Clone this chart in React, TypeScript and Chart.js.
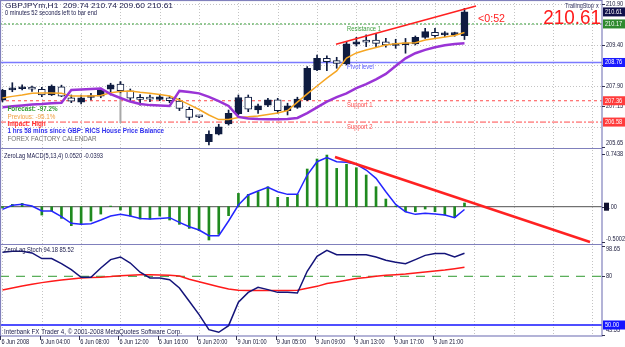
import React, { useEffect, useRef } from 'react';
import { Chart, registerables } from 'chart.js';

Chart.register(...registerables);

// ---------- data ----------
const timeLabels = ['6 Jun 2008', '6 Jun 04:00', '6 Jun 08:00', '6 Jun 12:00', '6 Jun 16:00', '6 Jun 20:00', '9 Jun 01:00', '9 Jun 05:00', '9 Jun 09:00', '9 Jun 13:00', '9 Jun 17:00', '9 Jun 21:00'];
const timeLabelBars = [0, 4, 8, 12, 16, 20, 24, 28, 32, 36, 40, 44];

const opens = [207.38, 207.76, 207.80, 207.86, 207.78, 207.57, 207.87, 207.47, 207.31, 207.48, 207.53, 207.78, 207.97, 207.72, 207.43, 207.43, 207.41, 207.47, 207.35, 207.05, 206.79, 205.86, 206.14, 206.51, 206.89, 207.49, 207.02, 207.20, 207.39, 207.00, 207.12, 207.39, 208.49, 208.91, 208.83, 208.71, 209.43, 209.58, 209.58, 209.52, 209.38, 209.41, 209.44, 209.68, 209.86, 209.77, 209.78, 209.74];
const highs = [207.78, 208.02, 207.94, 207.90, 207.85, 207.94, 207.93, 207.57, 207.57, 207.63, 207.82, 208.00, 208.06, 207.79, 207.59, 207.57, 207.56, 207.53, 207.45, 207.12, 206.82, 206.26, 206.50, 207.02, 207.57, 207.57, 207.24, 207.45, 207.45, 207.27, 207.49, 208.61, 209.03, 209.00, 208.95, 209.52, 209.68, 209.77, 209.83, 209.64, 209.61, 209.64, 209.73, 210.01, 210.01, 209.89, 209.87, 210.74];
const lows = [207.32, 207.69, 207.76, 207.70, 207.51, 207.55, 207.51, 207.29, 207.24, 207.39, 207.47, 207.57, 207.65, 207.36, 207.20, 207.33, 207.36, 207.29, 207.00, 206.66, 206.74, 205.74, 206.11, 206.47, 206.84, 206.96, 206.90, 207.14, 206.90, 206.84, 207.08, 207.36, 208.46, 208.46, 208.55, 208.67, 209.36, 209.34, 209.34, 209.32, 209.28, 209.10, 209.40, 209.64, 209.68, 209.70, 209.72, 209.60];
const closes = [207.74, 207.82, 207.85, 207.78, 207.57, 207.90, 207.53, 207.34, 207.47, 207.55, 207.75, 207.94, 207.73, 207.45, 207.41, 207.42, 207.50, 207.36, 207.08, 206.75, 206.77, 206.13, 206.41, 206.90, 207.48, 207.05, 207.17, 207.39, 207.00, 207.17, 207.42, 208.55, 208.91, 208.79, 208.73, 209.44, 209.52, 209.50, 209.46, 209.40, 209.45, 209.45, 209.68, 209.89, 209.74, 209.81, 209.80, 210.61];

const newsBar = 12;
const newsLow = 206.55;

const fastMA = [207.46, 207.52, 207.57, 207.63, 207.64, 207.64, 207.63, 207.53, 207.53, 207.53, 207.55, 207.65, 207.70, 207.72, 207.67, 207.63, 207.59, 207.53, 207.39, 207.22, 207.04, 206.84, 206.67, 206.67, 206.75, 206.77, 206.80, 206.86, 206.91, 207.00, 207.31, 207.61, 207.90, 208.19, 208.45, 208.92, 209.11, 209.22, 209.31, 209.40, 209.45, 209.47, 209.48, 209.58, 209.64, 209.69, 209.75, 209.86];
const slowMA = [207.12, 207.16, 207.19, 207.22, 207.24, 207.27, 207.29, 207.75, 207.77, 207.79, 207.81, 207.60, 207.46, 207.33, 207.24, 207.20, 207.19, 207.17, 207.72, 207.68, 207.63, 207.50, 207.35, 207.17, 206.77, 206.71, 206.69, 206.68, 206.68, 206.69, 206.73, 206.91, 207.12, 207.33, 207.49, 207.63, 207.82, 207.97, 208.14, 208.34, 208.63, 208.91, 209.10, 209.22, 209.32, 209.39, 209.44, 209.46];

const levelNames = ['Resistance 1', 'Pivot level', 'Support 1', 'Support 2'];
const levelValues = [210.17, 208.76, 207.36, 206.58];

const trendMainX = [33.93, 48.17];
const trendMainY = [209.43, 210.83];

const macdHist = [-0.02, 0.033, 0.047, 0.005, -0.118, -0.061, -0.165, -0.268, -0.249, -0.202, -0.104, 0.009, -0.047, -0.132, -0.174, -0.174, -0.132, -0.188, -0.249, -0.306, -0.339, -0.470, -0.390, -0.127, 0.188, 0.174, 0.212, 0.282, 0.132, 0.132, 0.174, 0.532, 0.673, 0.729, 0.541, 0.598, 0.550, 0.447, 0.282, 0.108, 0.009, -0.071, -0.071, -0.033, -0.071, -0.118, -0.155, 0.052];
const macdSignal = [-0.038, 0.019, 0.033, 0.009, -0.061, -0.061, -0.141, -0.235, -0.249, -0.240, -0.188, -0.132, -0.108, -0.132, -0.165, -0.174, -0.165, -0.155, -0.221, -0.282, -0.329, -0.409, -0.409, -0.202, 0.024, 0.165, 0.221, 0.273, 0.212, 0.174, 0.174, 0.447, 0.635, 0.692, 0.635, 0.626, 0.598, 0.518, 0.400, 0.212, 0.033, -0.071, -0.108, -0.094, -0.104, -0.118, -0.155, -0.039];
const trendMacdX = [33.83, 59.77];
const trendMacdY = [0.701, -0.498];

const stochMain = [94.8, 95.4, 95.4, 94.4, 90.9, 90.9, 87.8, 84.1, 79.4, 79.4, 85.1, 90.3, 91.9, 88.2, 82.5, 79.0, 79.0, 77.9, 72.8, 64.6, 56.4, 47.1, 45.5, 49.6, 64.0, 70.1, 73.2, 71.8, 70.1, 70.1, 69.7, 83.1, 92.3, 96.0, 93.3, 93.3, 93.3, 93.3, 91.9, 89.9, 88.6, 87.8, 90.3, 92.9, 94.0, 94.0, 91.9, 94.18];
const stochSignal = [71.6, 72.8, 74.0, 75.1, 76.1, 76.9, 77.7, 78.4, 79.0, 79.2, 79.4, 79.8, 80.4, 80.7, 81.0, 80.9, 80.8, 80.6, 80.2, 78.2, 76.7, 75.1, 73.6, 72.2, 71.4, 71.2, 71.2, 71.2, 71.2, 71.2, 71.4, 72.6, 73.8, 75.5, 76.5, 77.5, 78.6, 79.2, 80.0, 80.6, 81.0, 81.4, 82.1, 82.7, 83.3, 83.9, 84.7, 85.52];
const stochLevels = [80, 50];

const mainAxisTicks = [210.90, 209.40, 208.65, 207.90, 207.15, 205.65];
const mainGridTicks = [210.90, 210.15, 209.40, 208.65, 207.90, 207.15, 206.40];
const macdAxisTicks = [0.7438, 0, -0.5002];
const macdAxisText = ['0.7438', '0.00', '-0.5002'];
const stochAxisTicks = [98.65, 80, 43.55];
const stochAxisText = ['98.65', '80', '43.55'];

const headerLine1 = 'GBPJPYm,H1  209.74 210.74 209.60 210.61';
const headerLine2 = '0 minutes 52 seconds left to bar end';
const newsLines = ['Forecast: -97.2%', 'Previous: -95.1%', 'Impact: High', '1 hrs 58 mins since GBP: RICS House Price Balance', 'FOREX FACTORY CALENDAR'];
const macdTitle = 'ZeroLag MACD(5,13,4) 0.0520 -0.0393';
const stochTitle = 'ZeroLag Stoch 94.18 85.52';
const footer = 'Interbank FX Trader 4, \u00a9 2001-2008 MetaQuotes Software Corp.';
const countdown = '<0:52';

// ---------- drawing helpers ----------
const FONT = '"Liberation Sans", Arial, Helvetica, sans-serif';
type TextOpts = { size?: number; color?: string; bold?: boolean; sx?: number; align?: CanvasTextAlign; width?: number };

function drawText(ctx: CanvasRenderingContext2D, s: string, x: number, y: number, o: TextOpts = {}) {
  const size = o.size ?? 7;
  ctx.save();
  ctx.font = `${o.bold ? 'bold ' : ''}${size}px ${FONT}`;
  let sx = o.sx ?? 0.84;
  if (o.width) sx = o.width / ctx.measureText(s).width;
  ctx.translate(x, y);
  ctx.scale(sx, 1);
  ctx.textAlign = o.align ?? 'left';
  ctx.textBaseline = 'middle';
  ctx.fillStyle = o.color ?? '#1b1b4b';
  ctx.fillText(s, 0, 0);
  ctx.restore();
}

function seg(ctx: CanvasRenderingContext2D, x1: number, y1: number, x2: number, y2: number) {
  ctx.beginPath();
  ctx.moveTo(x1, y1);
  ctx.lineTo(x2, y2);
  ctx.stroke();
}

export default function App() {
  const ref = useRef<HTMLCanvasElement>(null);

  useEffect(() => {
    const canvas = ref.current;
    if (!canvas) return;
    const idx = opens.map((_, i) => i);
    const DARK = '#0f1c40';
    const xMin = -0.254;
    const xMax = 60.99;
    const PLOT_R = 602;
    const panelTop = [0, 148.5, 244.5];
    const panelBot = [148.5, 244.5, 336];

    const lineDs = (data: any[], axis: string, color: string, width: number, extra: any = {}) => ({
      type: 'line', data, xAxisID: 'x', yAxisID: axis, borderColor: color, borderWidth: width,
      pointRadius: 0, fill: false, tension: 0, ...extra,
    });
    const hline = (v: number) => [{ x: xMin, y: v }, { x: xMax, y: v }];

    const layers: any[] = [
      lineDs(hline(levelValues[0]), 'y', '#3ca03c', 1, { borderDash: [2, 2] }),
      lineDs(hline(levelValues[1]), 'y', '#7a7aff', 1.5),
      lineDs(hline(levelValues[2]), 'y', '#ff4a4a', 1, { borderDash: [3, 3] }),
      lineDs(hline(levelValues[3]), 'y', '#ff4a4a', 1, { borderDash: [6, 2, 2, 2] }),
      lineDs([{ x: newsBar, y: highs[newsBar] }, { x: newsBar, y: newsLow }], 'y', '#a8a8a8', 2),
      {
        type: 'bar', xAxisID: 'x', yAxisID: 'y', grouped: false, barThickness: 1, minBarLength: 1,
        data: idx.map(i => ({ x: i, y: [lows[i], highs[i]] })), backgroundColor: DARK,
      },
      {
        type: 'bar', xAxisID: 'x', yAxisID: 'y', grouped: false, barThickness: 7, minBarLength: 2,
        data: idx.map(i => ({ x: i, y: [opens[i], closes[i]] })),
        backgroundColor: idx.map(i => (closes[i] >= opens[i] ? DARK : '#ffffff')),
        borderColor: DARK, borderWidth: 1, borderSkipped: false,
      },
      lineDs(idx.map(i => ({ x: i, y: fastMA[i] })), 'y', '#f6a623', 1.5),
      lineDs(idx.map(i => ({ x: i, y: slowMA[i] })), 'y', '#9a34d6', 2.5),
      lineDs(trendMainX.map((x, k) => ({ x, y: trendMainY[k] })), 'y', '#ff2020', 1.5),
      // MACD
      lineDs(hline(0), 'y2', '#505050', 1),
      {
        type: 'bar', xAxisID: 'x', yAxisID: 'y2', grouped: false, barThickness: 2,
        data: idx.map(i => ({ x: i, y: macdHist[i] })), backgroundColor: '#1f8a1f',
      },
      lineDs(idx.map(i => ({ x: i, y: macdSignal[i] })), 'y2', '#2525ff', 1.5),
      lineDs(trendMacdX.map((x, k) => ({ x, y: trendMacdY[k] })), 'y2', '#ff2222', 2.5),
      // Stoch
      lineDs(hline(stochLevels[0]), 'y3', '#2f9a2f', 1, { borderDash: [9, 7] }),
      lineDs(hline(stochLevels[1]), 'y3', '#1414ff', 1.5),
      lineDs(idx.map(i => ({ x: i, y: stochSignal[i] })), 'y3', '#ff1a1a', 1.5),
      lineDs(idx.map(i => ({ x: i, y: stochMain[i] })), 'y3', '#14147a', 1.5),
    ];
    const datasets = layers.map((d, k) => ({ ...d, order: layers.length - k }));

    const deco = {
      id: 'deco',
      beforeDraw(chart: any) {
        const ctx: CanvasRenderingContext2D = chart.ctx;
        const xs = chart.scales.x;
        const ym = chart.scales.y;
        ctx.save();
        ctx.fillStyle = '#ffffff';
        ctx.fillRect(0, 0, chart.width, chart.height);
        ctx.strokeStyle = '#c4c4c4';
        ctx.lineWidth = 1;
        ctx.setLineDash([1, 2]);
        for (let b = 0; b <= 60; b += 4) {
          const px = Math.round(xs.getPixelForValue(b)) + 0.5;
          seg(ctx, px, 0, px, panelBot[2]);
        }
        mainGridTicks.forEach(v => {
          const py = Math.round(ym.getPixelForValue(v)) + 0.5;
          seg(ctx, 0, py, PLOT_R, py);
        });
        ctx.restore();
      },
      afterDatasetsDraw(chart: any) {
        const ctx: CanvasRenderingContext2D = chart.ctx;
        const xs = chart.scales.x;
        const ym = chart.scales.y;
        const y2 = chart.scales.y2;
        const y3 = chart.scales.y3;
        ctx.save();
        // frame
        ctx.strokeStyle = '#8080bc';
        ctx.lineWidth = 1.2;
        ctx.strokeRect(0.5, 0.5, PLOT_R - 0.5, panelBot[2] - 0.5);
        seg(ctx, 0, panelTop[1], PLOT_R, panelTop[1]);
        seg(ctx, 0, panelTop[2], PLOT_R, panelTop[2]);

        // header
        drawText(ctx, headerLine1, 5, 6, { size: 7.5, width: 168 });
        drawText(ctx, headerLine2, 5, 13.3, { size: 7.5, width: 92 });

        // news block
        const newsColors = ['#2e9a2e', '#f0a040', '#ff3030', '#3030ee', '#707070'];
        const newsBold = [true, false, true, true, false];
        newsLines.forEach((s, k) => {
          drawText(ctx, s, 7.5, 109.3 + k * 7.3, { size: 7.5, color: newsColors[k], bold: newsBold[k] });
        });

        // pivot labels
        const lvlColors = ['#40a040', '#5a5aff', '#ff5050', '#ff5050'];
        levelValues.forEach((v, k) => {
          const py = ym.getPixelForValue(v);
          drawText(ctx, levelNames[k], 347, py + 4.8, { size: 7, color: lvlColors[k] });
        });

        // countdown & big price
        const lastClose = closes[closes.length - 1];
        drawText(ctx, countdown, 478, 19, { size: 11.5, color: '#ff2020', sx: 0.93 });
        drawText(ctx, lastClose.toFixed(2), 601, 18.5, { size: 19.5, color: '#ff1a1a', sx: 0.97, align: 'right' });
        drawText(ctx, 'TrailingStop', 565, 6.5, { size: 6.5, color: '#303060' });
        drawText(ctx, 'x', 596, 6.5, { size: 6.5, color: '#303060' });

        // panel titles
        drawText(ctx, macdTitle, 4, 156.5, { size: 7, width: 99 });
        drawText(ctx, stochTitle, 4, 249.7, { size: 7, width: 70 });
        drawText(ctx, footer, 4, 332, { size: 7.5, width: 178 });

        // right axis
        ctx.strokeStyle = '#303050';
        ctx.lineWidth = 1;
        const axisLabel = (py: number, s: string, panel: number) => {
          const yy = Math.min(Math.max(py, panelTop[panel] + 4.5), panelBot[panel] - 5.5);
          seg(ctx, PLOT_R, Math.round(py) + 0.5, PLOT_R + 3, Math.round(py) + 0.5);
          drawText(ctx, s, 606, yy, { size: 7, sx: 0.8, color: '#202040' });
        };
        const boxLabel = (py: number, s: string, bg: string, fg: string) => {
          ctx.fillStyle = bg;
          ctx.fillRect(PLOT_R + 1, py - 4.5, 22, 9);
          drawText(ctx, s, 605, py, { size: 7, sx: 0.8, color: fg });
        };
        mainAxisTicks.forEach(v => axisLabel(ym.getPixelForValue(v), v.toFixed(2), 0));
        macdAxisTicks.forEach((v, k) => axisLabel(y2.getPixelForValue(v), macdAxisText[k], 1));
        stochAxisTicks.forEach((v, k) => axisLabel(y3.getPixelForValue(v), stochAxisText[k], 2));

        const lvlBg = ['#2f8a2f', '#1a1aff', '#ff3b3b', '#ff3b3b'];
        levelValues.forEach((v, k) => boxLabel(ym.getPixelForValue(v), v.toFixed(2), lvlBg[k], '#ffffff'));
        boxLabel(ym.getPixelForValue(lastClose), lastClose.toFixed(2), '#10104a', '#ffffff');
        boxLabel(y3.getPixelForValue(stochLevels[1]), stochLevels[1].toFixed(2), '#1414ff', '#ffffff');
        const zeroPy = y2.getPixelForValue(0);
        ctx.fillStyle = '#101030';
        ctx.fillRect(PLOT_R + 2, zeroPy - 4, 5, 8);

        // time axis
        ctx.strokeStyle = '#303050';
        timeLabels.forEach((s, k) => {
          const px = xs.getPixelForValue(timeLabelBars[k]);
          seg(ctx, Math.round(px) - 1.5, panelBot[2], Math.round(px) - 1.5, panelBot[2] + 4);
          drawText(ctx, s, px - 1, 342, { size: 7, sx: 0.8, color: '#202040' });
        });
        ctx.restore();
      },
    };

    const chart = new Chart(canvas, {
      type: 'line',
      data: { datasets },
      options: {
        animation: false,
        responsive: false,
        devicePixelRatio: 1,
        events: [],
        layout: { padding: { left: 0, top: 0, right: 23, bottom: 11 } },
        plugins: { legend: { display: false }, tooltip: { enabled: false } },
        scales: {
          x: { type: 'linear', min: xMin, max: xMax, display: false, offset: false },
          y: { type: 'linear', min: 198.752, max: 211.0464, display: false },
          y2: { type: 'linear', min: -1.825, max: 2.9174, display: false },
          y3: { type: 'linear', min: 43.22, max: 250.21, display: false },
        },
      } as any,
      plugins: [deco],
    } as any);

    return () => chart.destroy();
  }, []);

  return (
    <div style={{ position: 'absolute', left: 0, top: 0, width: 625, height: 347, background: '#fff' }}>
      <canvas ref={ref} width={625} height={347} style={{ display: 'block', width: 625, height: 347 }} />
    </div>
  );
}
